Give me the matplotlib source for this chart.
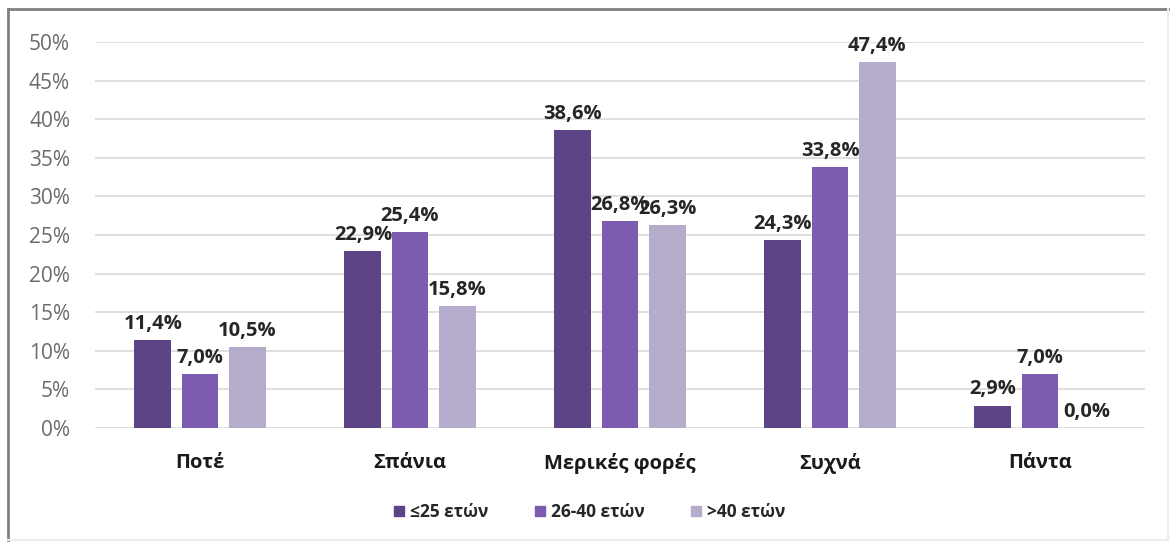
import numpy as np
import matplotlib
matplotlib.use("Agg")
import matplotlib.pyplot as plt
from matplotlib.lines import Line2D
from matplotlib.ticker import FuncFormatter

plt.rcParams["font.family"] = ["Open Sans", "DejaVu Sans"]

categories = ["Ποτέ", "Σπάνια", "Μερικές φορές", "Συχνά", "Πάντα"]
groups = ["≤25 ετών", "26-40 ετών", ">40 ετών"]
age_le25 = [11.4, 22.9, 38.6, 24.3, 2.9]
age_26_40 = [7.0, 25.4, 26.8, 33.8, 7.0]
age_gt40 = [10.5, 15.8, 26.3, 47.4, 0.0]
yticks = [0, 5, 10, 15, 20, 25, 30, 35, 40, 45, 50]

colors = ["#5d4487", "#7b5cb0", "#b5abcb"]
series = [age_le25, age_26_40, age_gt40]

fig = plt.figure(figsize=(11.76, 5.47), dpi=100)
ax = fig.add_axes([95 / 1176, 119 / 547, 1050 / 1176, 386 / 547])

x = np.arange(len(categories))
width = 0.176
step = 0.224
for i, (vals, col) in enumerate(zip(series, colors)):
    pos = x + (i - 1) * step
    ax.bar(pos, vals, width=width, color=col, zorder=3)
    for px, v in zip(pos, vals):
        ax.text(px, v + 0.8, f"{v:.1f}%".replace(".", ","), ha="center",
                va="bottom", fontsize=14.5, fontweight="bold", color="#262626",
                zorder=4)

ax.set_xlim(-0.5, 4.5)
ax.set_ylim(0, 50)
ax.set_yticks(yticks)
ax.yaxis.set_major_formatter(FuncFormatter(lambda v, _: f"{v:.0f}%"))
ax.grid(axis="y", color="#d9d9d9", lw=1.2, zorder=0)
ax.set_xticks(x)
ax.set_xticklabels(categories, fontsize=14.5, fontweight="bold", color="#1a1a1a")
ax.tick_params(axis="x", length=0, pad=18)
ax.tick_params(axis="y", length=0, pad=18, labelsize=15, labelcolor="#6b6b6b")
for s in ax.spines.values():
    s.set_visible(False)

handles = [Line2D([], [], marker="s", ls="none", markersize=7, color=c)
           for c in colors]
leg = fig.legend(handles, groups, loc="center", bbox_to_anchor=(587 / 1176, 1 - 512 / 547),
                 ncol=3, frameon=False, handletextpad=0.0, columnspacing=2.4,
                 handlelength=1.2, prop={"size": 12.5, "weight": "bold"})
for t in leg.get_texts():
    t.set_color("#262626")

# chart border
W, H = 1176, 547
fig.add_artist(Line2D([8 / W, 8 / W], [1 - 540 / H, 1 - 9 / H], color="#808080", lw=2))
fig.add_artist(Line2D([8 / W, 1168 / W], [1 - 9 / H, 1 - 9 / H], color="#808080", lw=2))
fig.add_artist(Line2D([1168 / W, 1168 / W], [1 - 540 / H, 1 - 9 / H], color="#ececec", lw=1.5))
fig.add_artist(Line2D([8 / W, 1168 / W], [1 - 540 / H, 1 - 540 / H], color="#ececec", lw=1.5))

fig.savefig("out.png", dpi=100)
